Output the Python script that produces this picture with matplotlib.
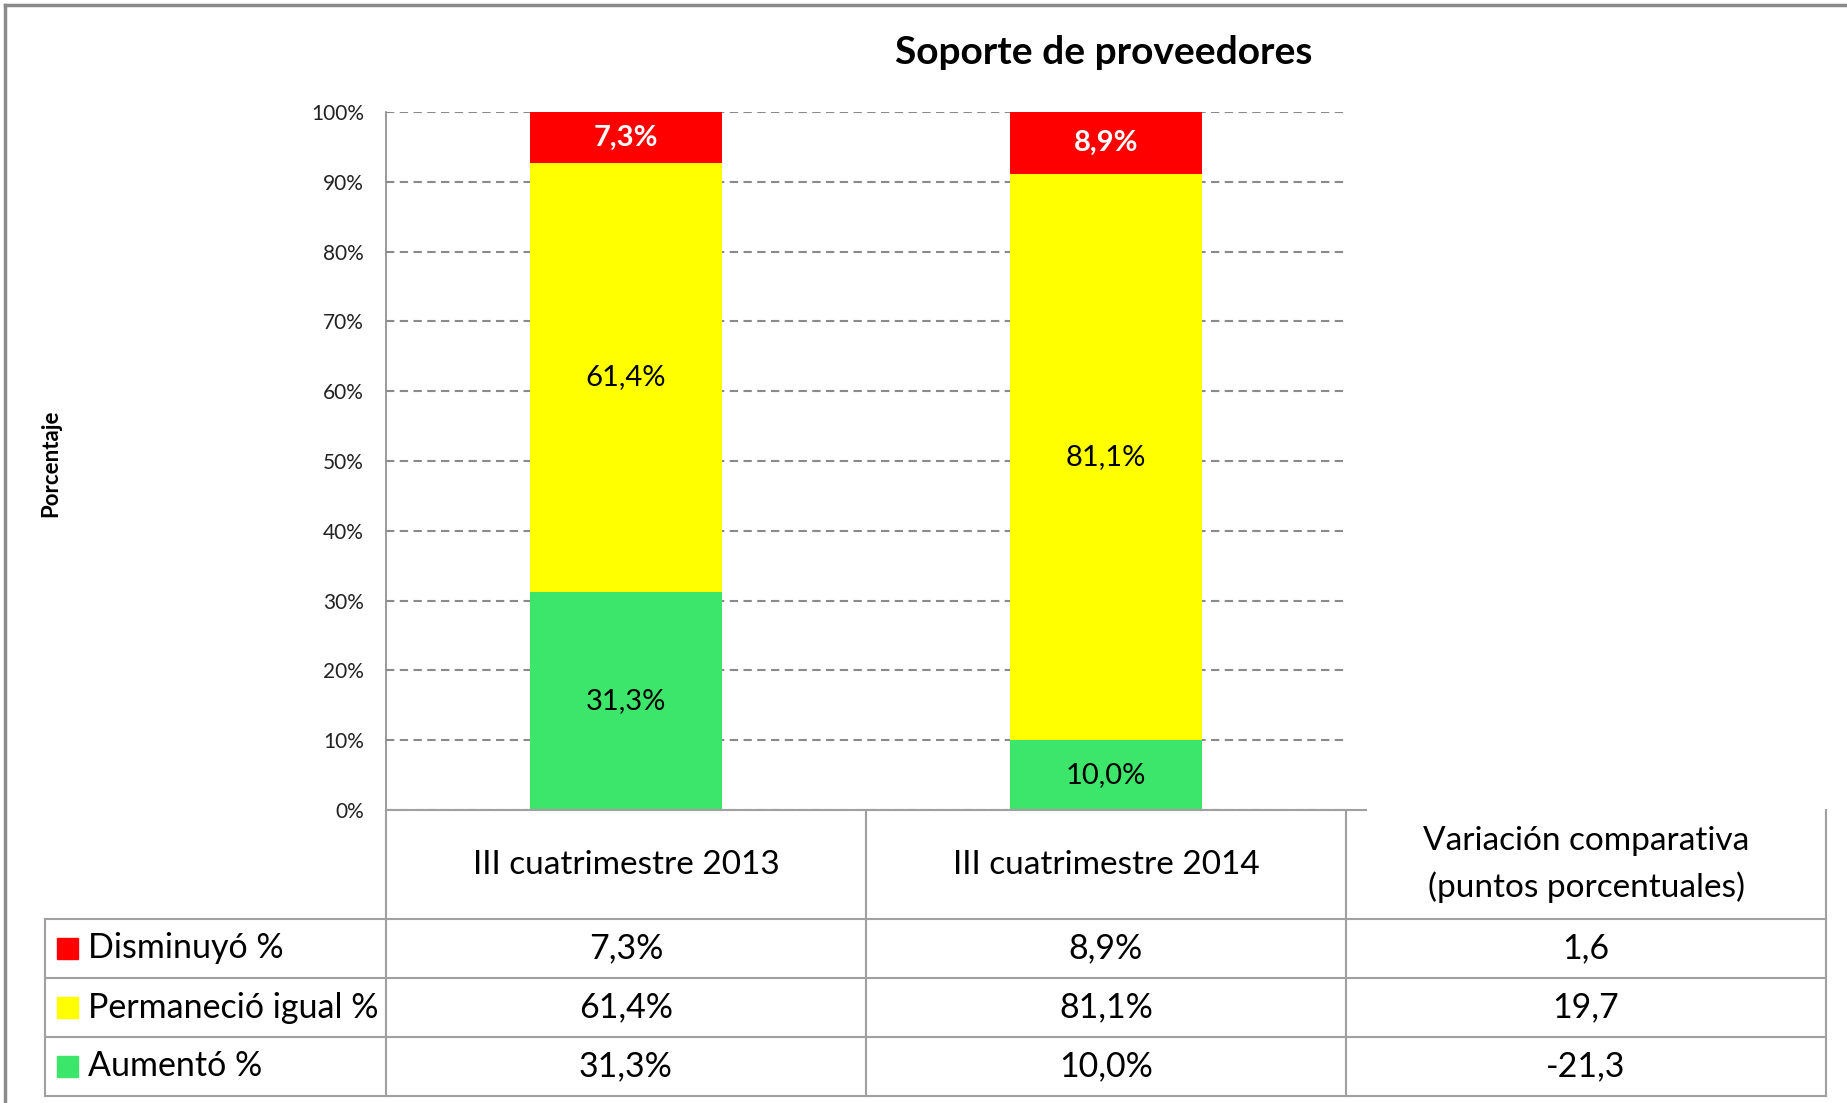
import numpy as np
import matplotlib
matplotlib.use("Agg")
import matplotlib.pyplot as plt
from matplotlib.ticker import FuncFormatter

plt.rcParams['font.family'] = ['Lato', 'DejaVu Sans']

# data
periods = ["III cuatrimestre 2013", "III cuatrimestre 2014"]
series = ["Disminuyó %", "Permaneció igual %", "Aumentó %"]
disminuyo = [7.3, 8.9]
permanecio = [61.4, 81.1]
aumento = [31.3, 10.0]
variacion = [1.6, 19.7, -21.3]
colors = {"Disminuyó %": "#FF0000", "Permaneció igual %": "#FFFF00", "Aumentó %": "#3CE66B"}

def pct(v):
    return f"{v:.1f}".replace('.', ',') + '%'

W, H = 1847, 1103
fig = plt.figure(figsize=(W / 100, H / 100), dpi=100)

# chart area
ax = fig.add_axes([386 / W, 1 - 810 / H, 960 / W, 698 / H])
x = np.arange(len(periods))
bw = 0.4
ax.bar(x, aumento, bw, color=colors["Aumentó %"], zorder=3)
ax.bar(x, permanecio, bw, bottom=aumento, color=colors["Permaneció igual %"], zorder=3)
bot3 = [a + p for a, p in zip(aumento, permanecio)]
ax.bar(x, disminuyo, bw, bottom=bot3, color=colors["Disminuyó %"], zorder=3)

for i in range(len(periods)):
    ax.text(x[i], aumento[i] / 2, pct(aumento[i]), ha='center', va='center', fontsize=21, zorder=4)
    ax.text(x[i], aumento[i] + permanecio[i] / 2, pct(permanecio[i]), ha='center', va='center',
            fontsize=21, zorder=4)
    ax.text(x[i], bot3[i] + disminuyo[i] / 2, pct(disminuyo[i]), ha='center', va='center',
            fontsize=21, fontweight='bold', color='white', zorder=4)

ax.set_xlim(-0.5, 1.5)
ax.set_ylim(0, 100)
ax.set_yticks(np.arange(0, 101, 10))
ax.yaxis.set_major_formatter(FuncFormatter(lambda v, p: f"{int(v)}%"))
ax.tick_params(axis='y', length=0, pad=16, labelsize=15, labelcolor='#222222')
ax.set_xticks([])
ax.grid(axis='y', color='#8a8a8a', linestyle=(0, (4, 2.6)), linewidth=1.5, zorder=0)
for s in ['top', 'right', 'bottom']:
    ax.spines[s].set_visible(False)
ax.spines['left'].set_color('#8a8a8a')
ax.spines['left'].set_linewidth(1.2)

# overlay for title, border and data table
ov = fig.add_axes([0, 0, 1, 1], zorder=5)
ov.set_xlim(0, W)
ov.set_ylim(H, 0)
ov.axis('off')
ov.patch.set_alpha(0)

ov.plot([5, 5], [5, H], color='#8a8a8a', lw=2.5)
ov.plot([5, W], [5, 5], color='#8a8a8a', lw=2.5)

ov.text(1104, 53, "Soporte de proveedores", ha='center', va='center', fontsize=28, fontweight='bold')
ov.text(51, 463, "Porcentaje", ha='center', va='center', rotation=90, fontsize=16, fontweight='bold')

lc = '#a0a0a0'
cols = [45, 386, 866, 1346, 1826]
rows = [810, 919, 978, 1037, 1096]
ov.plot([386, 1366], [810, 810], color=lc, lw=1.5)
for cx in cols[1:]:
    ov.plot([cx, cx], [810, 1096], color=lc, lw=1.5)
ov.plot([45, 45], [919, 1096], color=lc, lw=1.5)
for ry in rows[1:]:
    ov.plot([45, 1826], [ry, ry], color=lc, lw=1.5)

hy = (rows[0] + rows[1]) / 2
for i, p in enumerate(periods):
    ov.text((cols[i + 1] + cols[i + 2]) / 2, hy, p, ha='center', va='center', fontsize=24)
ov.text((cols[3] + cols[4]) / 2, hy, "Variación comparativa\n(puntos porcentuales)",
        ha='center', va='center', fontsize=24, linespacing=1.6)

table_vals = [disminuyo, permanecio, aumento]
for r, name in enumerate(series):
    cy = (rows[r + 1] + rows[r + 2]) / 2
    ov.add_patch(plt.Rectangle((57, cy - 10.5), 21, 21, color=colors[name]))
    ov.text(88, cy, name, ha='left', va='center', fontsize=24.5)
    for i in range(len(periods)):
        ov.text((cols[i + 1] + cols[i + 2]) / 2, cy, pct(table_vals[r][i]), ha='center', va='center',
                fontsize=24.5)
    ov.text((cols[3] + cols[4]) / 2, cy, f"{variacion[r]:.1f}".replace('.', ','), ha='center', va='center',
            fontsize=24.5)

fig.savefig("out.png", dpi=100, facecolor='white')
